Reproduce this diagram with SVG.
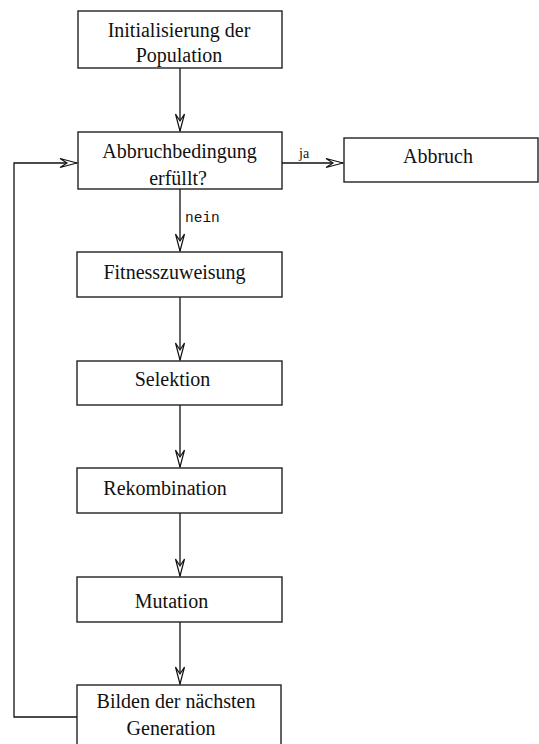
<svg xmlns="http://www.w3.org/2000/svg" width="539" height="744" viewBox="0 0 539 744">
<style>
.box{fill:#fff;stroke:#222;stroke-width:1.4}
.t{font-family:"Liberation Serif","Times New Roman",serif;font-size:20px;fill:#111;text-anchor:middle}
.lbl{font-family:"Liberation Serif",serif;font-size:14px;fill:#111}
.mono{font-family:"Liberation Mono","DejaVu Sans Mono",monospace;font-size:14.5px;fill:#111}
.c{fill:none;stroke:#111;stroke-width:1.3}
</style>
<defs>
<marker id="ah" viewBox="-19 -6 21 12" markerWidth="21" markerHeight="12" refX="0" refY="0" markerUnits="userSpaceOnUse" orient="auto">
<path d="M0,0 L-17,-4.5 L-10,0 L-17,4.5 Z" fill="#fff" stroke="#111" stroke-width="1.2" stroke-linejoin="miter"/>
</marker>
</defs>
<rect width="539" height="744" fill="#fff"/>
<g id="connectors">
<path class="c" d="M180,68 V131" marker-end="url(#ah)"/>
<path class="c" d="M282,163 H343" marker-end="url(#ah)"/>
<path class="c" d="M180,189 V251" marker-end="url(#ah)"/>
<path class="c" d="M180,297 V360" marker-end="url(#ah)"/>
<path class="c" d="M180,405 V467" marker-end="url(#ah)"/>
<path class="c" d="M180,513 V576" marker-end="url(#ah)"/>
<path class="c" d="M180,622 V684" marker-end="url(#ah)"/>
<path class="c" d="M77,717 H14 V163 H77" marker-end="url(#ah)"/>
<text class="lbl" x="299" y="158">ja</text>
<text class="mono" x="185" y="222">nein</text>
</g>
<g id="init">
<rect class="box" x="78" y="11" width="204" height="57"/>
<text class="t" x="179" y="37">Initialisierung der</text>
<text class="t" x="179" y="62">Population</text>
</g>
<g id="abbruchbedingung">
<rect class="box" x="78" y="132" width="204" height="57"/>
<text class="t" x="179.5" y="158">Abbruchbedingung</text>
<text class="t" x="178" y="185">erfüllt?</text>
</g>
<g id="abbruch">
<rect class="box" x="344" y="138" width="194" height="44"/>
<text class="t" x="438" y="163">Abbruch</text>
</g>
<g id="fitness">
<rect class="box" x="77" y="252" width="205" height="45"/>
<text class="t" x="174.5" y="279">Fitnesszuweisung</text>
</g>
<g id="selektion">
<rect class="box" x="77" y="361" width="205" height="44"/>
<text class="t" x="172.5" y="386">Selektion</text>
</g>
<g id="rekombination">
<rect class="box" x="77" y="468" width="205" height="45"/>
<text class="t" x="165" y="495">Rekombination</text>
</g>
<g id="mutation">
<rect class="box" x="77" y="577" width="205" height="45"/>
<text class="t" x="171.5" y="608">Mutation</text>
</g>
<g id="bilden">
<rect class="box" x="77" y="685" width="204" height="60"/>
<text class="t" x="176" y="708">Bilden der nächsten</text>
<text class="t" x="171" y="735">Generation</text>
</g>
</svg>
